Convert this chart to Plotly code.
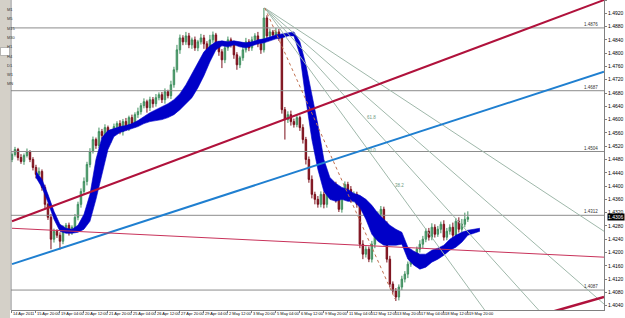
import plotly.graph_objects as go

# ---------------- data (prices in pips, /10000) ----------------
time_labels = ["14 Apr 2011", "15 Apr 20:00", "19 Apr 04:00", "20 Apr 12:00", "21 Apr 20:00",
               "25 Apr 04:00", "26 Apr 12:00", "27 Apr 20:00", "29 Apr 04:00", "2 May 12:00",
               "3 May 20:00", "5 May 04:00", "6 May 12:00", "9 May 20:00", "11 May 04:00",
               "12 May 12:00", "13 May 20:00", "17 May 04:00", "18 May 12:00", "19 May 20:00"]
label_bars = [0, 8, 16, 24, 32, 40, 48, 56, 64, 72, 80, 88, 96, 104, 112, 120, 128, 136, 144, 152]

first_open = 14480
close = [14495, 14510, 14486, 14474, 14492, 14504, 14480, 14456, 14435, 14444,
         14396, 14345, 14306, 14240, 14264, 14252, 14234, 14270, 14282, 14261,
         14276, 14306, 14345, 14384, 14414, 14465, 14504, 14540, 14522, 14564,
         14552, 14576, 14540, 14558, 14579, 14588, 14564, 14594, 14576, 14606,
         14588, 14615, 14624, 14642, 14654, 14636, 14660, 14648, 14666, 14675,
         14660, 14684, 14672, 14705, 14750, 14810, 14846, 14834, 14852, 14825,
         14840, 14816, 14834, 14846, 14828, 14810, 14840, 14855, 14825, 14804,
         14780, 14816, 14840, 14825, 14795, 14765, 14786, 14810, 14834, 14816,
         14840, 14852, 14828, 14810, 14906, 14852, 14864, 14855, 14864, 14846,
         14630, 14600, 14615, 14594, 14585, 14606, 14576, 14540, 14480, 14420,
         14375, 14360, 14345, 14375, 14345, 14390, 14375, 14405, 14360, 14330,
         14375, 14405, 14390, 14360, 14375, 14345, 14225, 14195, 14210, 14180,
         14225, 14270, 14315, 14330, 14285, 14180, 14105, 14084, 14066, 14096,
         14120, 14135, 14165, 14186, 14174, 14210, 14225, 14240, 14264, 14246,
         14276, 14255, 14270, 14285, 14246, 14264, 14276, 14252, 14294, 14270,
         14285, 14300, 14306]
wick_up = [6, 8, 5, 10, 6, 9, 4, 7, 8, 12, 6, 8, 5, 10, 8, 6, 9, 12, 7, 8,
           6, 10, 8, 9, 12, 8, 10, 9, 6, 12, 8, 10, 6, 12, 9, 7, 10, 8, 11, 6,
           9, 7, 12, 8, 10, 6, 9, 8, 11, 7, 8, 10, 6, 12, 9, 15, 10, 8, 12, 9,
           7, 10, 6, 12, 9, 8, 15, 10, 6, 12, 8, 6, 10, 7, 12, 8, 6, 9, 12, 8,
           10, 8, 12, 9, 30, 8, 10, 6, 12, 9, 6, 8, 10, 12, 9, 8, 6, 10, 8, 9,
           12, 8, 10, 9, 8, 12, 10, 9, 8, 10, 12, 9, 8, 10, 9, 8, 10, 12, 9, 8,
           10, 12, 9, 10, 8, 9, 10, 8, 9, 8, 10, 9, 8, 12, 10, 8, 12, 10, 9, 10,
           12, 9, 10, 8, 12, 10, 9, 14, 10, 12, 16, 20, 18]
wick_dn = [8, 6, 9, 7, 10, 6, 8, 9, 12, 8, 10, 12, 8, 30, 10, 8, 25, 9, 7, 10,
           8, 6, 9, 10, 8, 12, 9, 6, 10, 8, 10, 8, 12, 9, 7, 10, 8, 12, 9, 10,
           8, 12, 10, 9, 8, 15, 10, 12, 9, 8, 10, 12, 8, 10, 9, 8, 12, 10, 9, 10,
           12, 9, 10, 8, 15, 12, 10, 9, 8, 12, 25, 10, 9, 8, 12, 15, 10, 9, 8, 10,
           9, 8, 10, 12, 8, 10, 9, 8, 10, 9, 12, 60, 10, 12, 9, 8, 10, 12, 15, 10,
           12, 15, 10, 9, 12, 10, 9, 12, 10, 8, 10, 9, 12, 10, 9, 10, 12, 15, 10, 9,
           10, 12, 9, 10, 12, 10, 9, 8, 12, 10, 9, 10, 12, 8, 10, 9, 10, 12, 9, 10,
           9, 10, 8, 12, 10, 9, 10, 8, 12, 10, 10, 9, 8]

band_bars = [8, 10, 12, 14, 16, 18, 20, 22, 24, 26, 28, 30, 32, 34, 36, 38, 40, 42, 44, 46,
             48, 50, 52, 54, 56, 58, 60, 62, 64, 66, 68, 70, 72, 74, 76, 78, 80, 82, 84, 86,
             88, 90, 92, 94, 96, 98, 100, 102, 104, 106, 108, 110, 112, 114, 116, 118, 120,
             122, 124, 126, 128, 130, 132, 134, 136, 138, 140, 142, 144, 146, 148, 150, 152,
             154, 156]
band_top = [14444, 14420, 14375, 14324, 14285, 14273, 14270, 14282, 14315, 14375,
            14480, 14546, 14567, 14573, 14579, 14582, 14588, 14597, 14609, 14621,
            14630, 14639, 14648, 14660, 14678, 14705, 14738, 14774, 14804, 14822,
            14834, 14837, 14834, 14837, 14834, 14831, 14834, 14840, 14843, 14849,
            14855, 14858, 14861, 14864, 14834, 14765, 14675, 14585, 14480, 14426,
            14408, 14396, 14390, 14378, 14372, 14360, 14342, 14318, 14300, 14282,
            14270, 14261, 14216, 14204, 14195, 14195, 14207, 14213, 14222, 14240,
            14252, 14261, 14267, 14270, 14273]
band_bot = [14426, 14396, 14351, 14300, 14264, 14258, 14258, 14261, 14270, 14294,
            14360, 14435, 14510, 14549, 14561, 14567, 14573, 14579, 14588, 14594,
            14597, 14600, 14606, 14615, 14630, 14648, 14666, 14696, 14732, 14774,
            14810, 14822, 14819, 14825, 14819, 14816, 14822, 14828, 14831, 14837,
            14843, 14846, 14852, 14852, 14795, 14660, 14540, 14450, 14384, 14360,
            14354, 14360, 14354, 14354, 14336, 14300, 14255, 14234, 14222, 14222,
            14222, 14225, 14180, 14162, 14150, 14156, 14171, 14180, 14192, 14207,
            14216, 14231, 14252, 14258, 14264]

hlines = [14876, 14687, 14504, 14312, 14087]

# trend lines: (bar, price) pairs
red_line = [(0, 14294), (197.4, 14960)]
blue_line = [(0, 14165), (197.4, 14744)]
pink_line = [(0, 14273), (197.4, 14186)]
red_low_line = [(174, 14006), (197.4, 14066)]
fan_origin = (84.3, 14936)
fan_ends = [(197.4, 14264), (197.4, 14045), (177.7, 14006), (159.3, 14006)]
fan_base_end = (127.7, 14060)
fan_labels = [("61.8", 120, 14606), ("50.0", 120, 14507), ("38.2", 129.3, 14402)]

y_ticks = [14040 + 40 * k for k in range(24)]
tf_buttons = ["M1", "M5", "M15", "M30", "H1", "H4", "D1", "W1", "MN"]

# ---------------- build ----------------
P = lambda v: v / 10000.0
n = len(close)
opens = [first_open] + close[:-1]
highs = [max(o, c) + w for o, c, w in zip(opens, close, wick_up)]
lows = [min(o, c) - w for o, c, w in zip(opens, close, wick_dn)]
bars = list(range(n))

fig = go.Figure()

for h in hlines:
    fig.add_trace(go.Scatter(x=[-1, 198], y=[P(h), P(h)], mode="lines",
                             line=dict(color="#8c8c8c", width=1), hoverinfo="skip", showlegend=False))

fig.add_trace(go.Scatter(x=band_bars, y=[P(v) for v in band_bot], mode="lines",
                         line=dict(color="#0000c8", width=0.6), showlegend=False, hoverinfo="skip"))
fig.add_trace(go.Scatter(x=band_bars, y=[P(v) for v in band_top], mode="lines",
                         line=dict(color="#0000c8", width=0.6), fill="tonexty",
                         fillcolor="#0000c8", showlegend=False, hoverinfo="skip"))

for e in fan_ends:
    fig.add_trace(go.Scatter(x=[fan_origin[0], e[0]], y=[P(fan_origin[1]), P(e[1])], mode="lines",
                             line=dict(color="#9fb8aa", width=1), showlegend=False, hoverinfo="skip"))
fig.add_trace(go.Scatter(x=[fan_origin[0], fan_base_end[0]], y=[P(fan_origin[1]), P(fan_base_end[1])],
                         mode="lines", line=dict(color="#c07050", width=1, dash="dot"),
                         showlegend=False, hoverinfo="skip"))

fig.add_trace(go.Candlestick(x=bars, open=[P(v) for v in opens], high=[P(v) for v in highs],
                             low=[P(v) for v in lows], close=[P(v) for v in close],
                             increasing=dict(line=dict(color="#3f8f5f", width=1), fillcolor="#5fa67a"),
                             decreasing=dict(line=dict(color="#7a0f1a", width=1), fillcolor="#8b1020"),
                             whiskerwidth=0, showlegend=False, hoverinfo="skip"))

for pts, col, w in [(red_line, "#b0123c", 2), (blue_line, "#1f7fd0", 2),
                    (pink_line, "#c8325a", 1), (red_low_line, "#b0123c", 2.5)]:
    fig.add_trace(go.Scatter(x=[p[0] for p in pts], y=[P(p[1]) for p in pts], mode="lines",
                             line=dict(color=col, width=w), showlegend=False, hoverinfo="skip"))

annotations = []
for lab, b in zip(time_labels, label_bars):
    annotations.append(dict(x=b, y=0, yref="paper", xref="x", text=lab, showarrow=False,
                            xanchor="left", yanchor="bottom", xshift=-1, yshift=0,
                            font=dict(size=4, color="#000000", family="Arial")))
for h in hlines:
    annotations.append(dict(x=196, y=P(h), xref="x", yref="y", text="%.4f" % P(h), showarrow=False,
                            xanchor="right", yanchor="bottom", yshift=-1,
                            font=dict(size=4.5, color="#333333", family="Arial")))
for t, bx, py in fan_labels:
    annotations.append(dict(x=bx, y=P(py), xref="x", yref="y", text=t, showarrow=False,
                            font=dict(size=4.5, color="#6f9a80", family="Arial")))
annotations.append(dict(x=1.0, xref="paper", y=P(close[-1]), yref="y", text="%.4f" % P(close[-1]),
                        showarrow=False, xanchor="right", bgcolor="#000000",
                        font=dict(size=5, color="#ffffff", family="Arial"), borderpad=0))

shapes = [dict(type="rect", xref="paper", yref="paper", x0=0, x1=10 / 625, y0=0, y1=1,
               fillcolor="#d4d0c8", line=dict(width=0), layer="below"),
          dict(type="line", xref="paper", yref="paper", x0=11 / 625, x1=11 / 625, y0=8 / 318, y1=1,
               line=dict(color="#808080", width=1))]
for k, b in enumerate(tf_buttons):
    yc = 1 - (5 + 9.3 * k) / 318
    if b == "H4":
        shapes.append(dict(type="rect", xref="paper", yref="paper", x0=0.5 / 625, x1=9.5 / 625,
                           y0=yc - 4 / 318, y1=yc + 4 / 318, fillcolor="#ffffff",
                           line=dict(color="#808080", width=0.5)))
    annotations.append(dict(x=5 / 625, y=yc, xref="paper", yref="paper", text=b, showarrow=False,
                            font=dict(size=4, color="#333333", family="Arial")))

fig.update_layout(
    width=625, height=318, margin=dict(l=0, r=0, t=0, b=0),
    paper_bgcolor="#ffffff", plot_bgcolor="#ffffff",
    xaxis=dict(domain=[11 / 625, 604 / 625], range=[-0.33, 197.4], showgrid=False, zeroline=False,
               showticklabels=False, showline=True, linecolor="#808080", linewidth=1,
               ticks="outside", ticklen=2, tickcolor="#808080", tickvals=label_bars,
               rangeslider=dict(visible=False), fixedrange=True),
    yaxis=dict(domain=[8 / 318, 1], range=[1.4027, 1.4960], side="right", showgrid=False, zeroline=False,
               showline=True, linecolor="#808080", linewidth=1, ticks="outside", ticklen=2,
               tickcolor="#808080", tickvals=[P(v) for v in y_ticks], tickformat=".4f",
               tickfont=dict(size=5, color="#000000", family="Arial"), fixedrange=True),
    annotations=annotations, shapes=shapes, showlegend=False,
)

fig.write_html("out.html")
